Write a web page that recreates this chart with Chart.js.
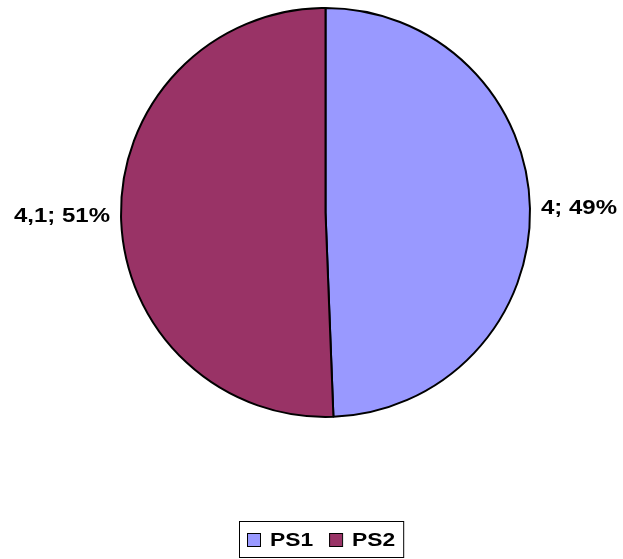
<!DOCTYPE html>
<html>
<head>
<meta charset="utf-8">
<script src="https://cdn.jsdelivr.net/npm/chart.js@4"></script>
<style>
  body { margin: 0; background: #fff; }
  #wrap { width: 623px; height: 559px; }
</style>
</head>
<body>
<div id="wrap"><canvas id="chart" width="623" height="559"></canvas></div>
<script>
const labels = ["PS1", "PS2"];
const values = [4, 4.1];
const colors = ["#9999FF", "#993366"];

const FONT = "Liberation Sans";
const STRETCH = 1.2; // the source text is a bit wide

// value; percent labels outside each slice
const outsideLabels = {
  id: "outsideLabels",
  afterDatasetsDraw(chart) {
    const ctx = chart.ctx;
    const meta = chart.getDatasetMeta(0);
    const total = values.reduce((a, b) => a + b, 0);
    ctx.save();
    ctx.font = "bold 20px '" + FONT + "'";
    ctx.fillStyle = "#000";
    ctx.textBaseline = "middle";
    meta.data.forEach((arc, i) => {
      const mid = (arc.startAngle + arc.endAngle) / 2;
      const r = arc.outerRadius + 11;
      const x = arc.x + Math.cos(mid) * r;
      const y = arc.y + Math.sin(mid) * r;
      const pct = Math.round(values[i] / total * 100);
      const txt = String(values[i]).replace(".", ",") + "; " + pct + "%";
      ctx.save();
      ctx.translate(x, y);
      ctx.scale(STRETCH, 1);
      ctx.textAlign = Math.cos(mid) >= 0 ? "left" : "right";
      ctx.fillText(txt, 0, 0);
      ctx.restore();
    });
    ctx.restore();
  }
};

// boxed legend at the bottom
const boxLegend = {
  id: "boxLegend",
  afterDraw(chart) {
    const ctx = chart.ctx;
    ctx.save();
    ctx.font = "bold 19px '" + FONT + "'";
    const sq = 13, gapSq = 10, gapItem = 16, pad = 8;
    const tw = l => ctx.measureText(l).width * STRETCH;
    let w = pad * 2;
    labels.forEach((l, i) => {
      w += sq + gapSq + tw(l);
      if (i < labels.length - 1) w += gapItem;
    });
    const top = 521, bottom = 557, cy = 540;
    const left = Math.round(321.5 - w / 2);
    ctx.strokeStyle = "#000";
    ctx.lineWidth = 1;
    ctx.strokeRect(left + 0.5, top + 0.5, w, bottom - top);
    let x = left + pad;
    ctx.textBaseline = "middle";
    ctx.textAlign = "left";
    labels.forEach((l, i) => {
      ctx.fillStyle = colors[i];
      ctx.fillRect(x, cy - 7, sq, sq);
      ctx.strokeStyle = "#000";
      ctx.strokeRect(x + 0.5, cy - 7 + 0.5, sq, sq);
      x += sq + gapSq;
      ctx.fillStyle = "#000";
      ctx.save();
      ctx.translate(x, cy + 1);
      ctx.scale(STRETCH, 1);
      ctx.fillText(l, 0, 0);
      ctx.restore();
      x += tw(l) + gapItem;
    });
    ctx.restore();
  }
};

new Chart(document.getElementById("chart"), {
  type: "pie",
  data: {
    labels: labels,
    datasets: [{
      data: values,
      backgroundColor: colors,
      borderColor: "#000",
      borderWidth: 2
    }]
  },
  options: {
    responsive: false,
    animation: false,
    layout: { padding: { left: 120, right: 92, top: 7, bottom: 141 } },
    plugins: {
      legend: { display: false },
      tooltip: { enabled: false }
    }
  },
  plugins: [outsideLabels, boxLegend]
});
</script>
</body>
</html>
